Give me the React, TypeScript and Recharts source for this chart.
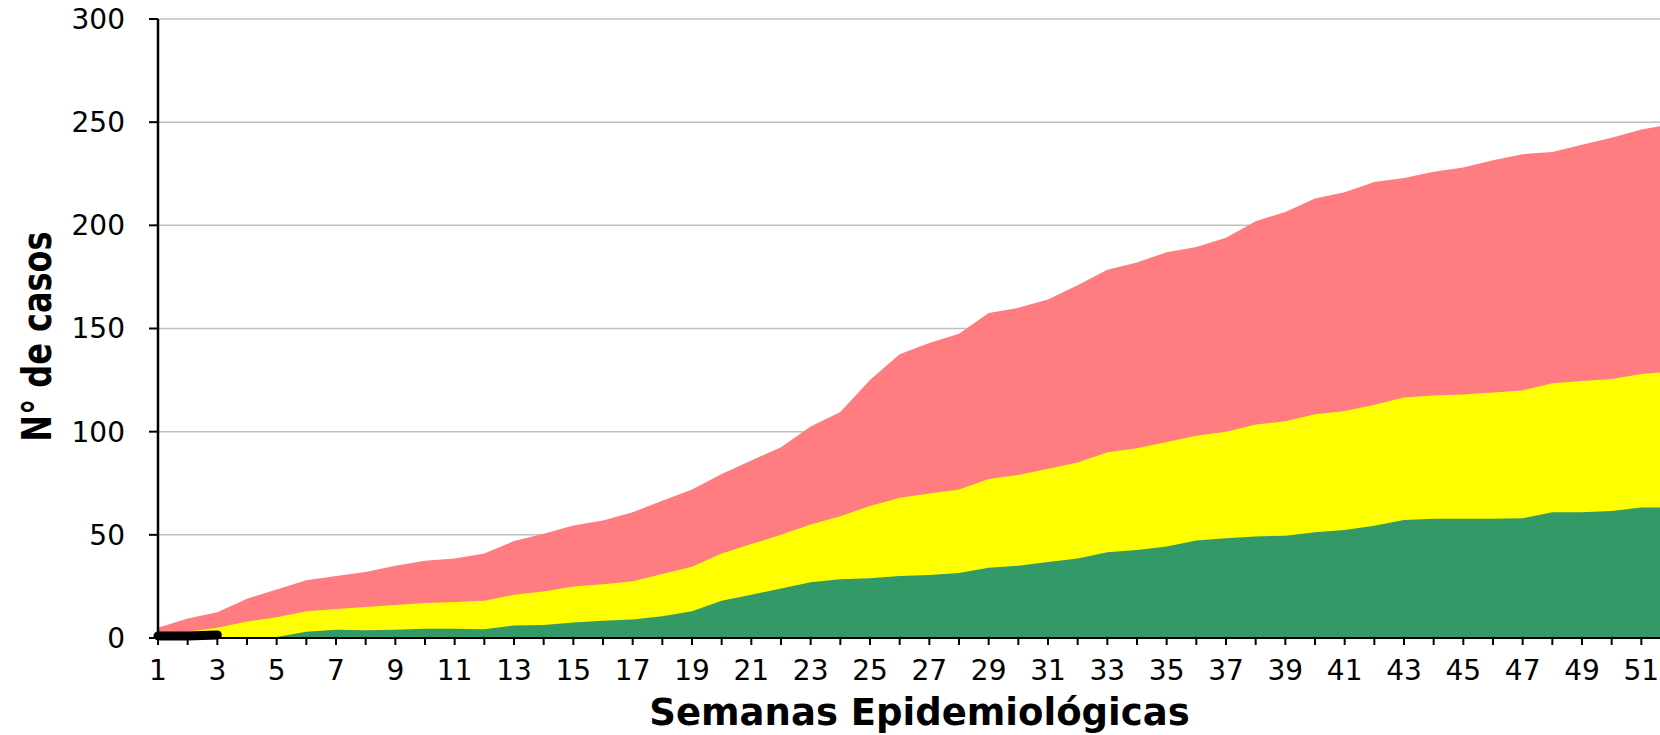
import React from 'react';
import { ComposedChart, Area, Line, XAxis, YAxis, CartesianGrid } from 'recharts';

// Semanas epidemiológicas 1..52
const weeks = [
  1, 2, 3, 4, 5, 6, 7, 8, 9, 10, 11, 12, 13, 14, 15, 16, 17, 18, 19, 20, 21, 22, 23, 24, 25, 26,
  27, 28, 29, 30, 31, 32, 33, 34, 35, 36, 37, 38, 39, 40, 41, 42, 43, 44, 45, 46, 47, 48, 49, 50, 51, 52,
];

// casos acumulados (borde superior de cada franja)
const rojo = [
  5, 9.5, 12.5, 19, 23.5, 28, 30, 32, 35, 37.5, 38.5, 41, 47, 50.5, 54.5, 57, 61, 66.5, 72, 79.5,
  86, 92.5, 102.5, 109.5, 125, 137.5, 143, 147.5, 157.5, 160, 164, 171, 178.5, 182, 187, 189.5,
  194, 202, 206.5, 213, 216, 221, 223, 226, 228, 231.5, 234.5, 235.5, 239, 242.5, 246.5, 249,
];

const amarillo = [
  2, 3, 5, 8, 10, 13, 14, 15, 16, 17, 17.5, 18, 21, 22.5, 25, 26, 27.5, 31, 34.5, 41, 45.5, 50,
  55, 59, 64, 68, 70, 72, 77, 79, 82, 85, 90, 92, 95, 98, 100, 103.5, 105, 108.5, 110, 113, 116.5,
  117.5, 118, 119, 120, 123.5, 124.5, 125.5, 128, 129,
];

const verde = [
  0, 0, 0, 0, 0.5, 3, 4, 3.8, 4, 4.5, 4.5, 4.3, 6, 6.3, 7.5, 8.3, 9, 10.5, 13, 18, 21, 24, 27,
  28.5, 29, 30, 30.5, 31.5, 34, 35, 36.8, 38.5, 41.5, 42.7, 44.3, 47.3, 48.3, 49.2, 49.6, 51.2,
  52.3, 54.4, 57.2, 57.8, 57.8, 57.8, 58, 61, 61, 61.6, 63.2, 63.3,
];

// trazo negro de las primeras semanas
const negro = [1, 1, 1.5];

const yTicks = [0, 50, 100, 150, 200, 250, 300];

const data = weeks.map((week, i) => ({
  week,
  rojo: rojo[i],
  amarillo: amarillo[i],
  verde: verde[i],
  negro: i < negro.length ? negro[i] : null,
}));

const tickStyle = { fill: '#000', fontSize: 28, fontFamily: 'DejaVu Sans' };

export default function App() {
  return (
    <div
      style={{
        position: 'absolute',
        left: 0,
        top: 0,
        width: 1660,
        height: 735,
        overflow: 'hidden',
        background: '#fff',
      }}
    >
      <ComposedChart
        width={1720}
        height={735}
        data={data}
        margin={{ top: 19, right: 49, bottom: 0, left: 0 }}
      >
        <CartesianGrid vertical={false} stroke="#c0c0c0" strokeWidth={1.5} />
        <Area
          type="linear"
          dataKey="rojo"
          stroke="none"
          fill="#ff7c80"
          fillOpacity={1}
          isAnimationActive={false}
          activeDot={false}
        />
        <Area
          type="linear"
          dataKey="amarillo"
          stroke="none"
          fill="#ffff00"
          fillOpacity={1}
          isAnimationActive={false}
          activeDot={false}
        />
        <Area
          type="linear"
          dataKey="verde"
          stroke="none"
          fill="#339966"
          fillOpacity={1}
          isAnimationActive={false}
          activeDot={false}
        />
        <Line
          type="linear"
          dataKey="negro"
          stroke="#000"
          strokeWidth={9}
          strokeLinecap="round"
          dot={false}
          activeDot={false}
          isAnimationActive={false}
        />
        <XAxis
          dataKey="week"
          type="number"
          domain={[1, 52]}
          ticks={weeks}
          interval={0}
          tickFormatter={(v: number) => (v % 2 === 1 ? String(v) : '')}
          height={97}
          tickSize={7}
          tickMargin={15}
          axisLine={{ stroke: '#000', strokeWidth: 2 }}
          tickLine={{ stroke: '#000', strokeWidth: 2 }}
          tick={tickStyle}
          label={{
            content: (props: any) => {
              const vb = props.viewBox;
              return (
                <text
                  x={vb.x + vb.width / 2 + 5}
                  y={vb.y + 87}
                  textAnchor="middle"
                  fontFamily="DejaVu Sans"
                  fontWeight="bold"
                  fontSize={37}
                  fill="#000"
                >
                  Semanas Epidemiológicas
                </text>
              );
            },
          }}
        />
        <YAxis
          domain={[0, 300]}
          ticks={yTicks}
          interval={0}
          width={158}
          tickSize={9}
          tickMargin={24}
          axisLine={{ stroke: '#000', strokeWidth: 2.5 }}
          tickLine={{ stroke: '#000', strokeWidth: 2 }}
          tick={tickStyle}
          label={{
            content: (props: any) => {
              const vb = props.viewBox;
              const cx = 37;
              const cy = vb.y + vb.height / 2 + 8;
              return (
                <text
                  transform={`translate(${cx},${cy}) rotate(-90) scale(1,1.25)`}
                  textAnchor="middle"
                  dominantBaseline="central"
                  fontFamily="DejaVu Sans"
                  fontWeight="bold"
                  fontSize={32}
                  fill="#000"
                >
                  N° de casos
                </text>
              );
            },
          }}
        />
      </ComposedChart>
    </div>
  );
}
